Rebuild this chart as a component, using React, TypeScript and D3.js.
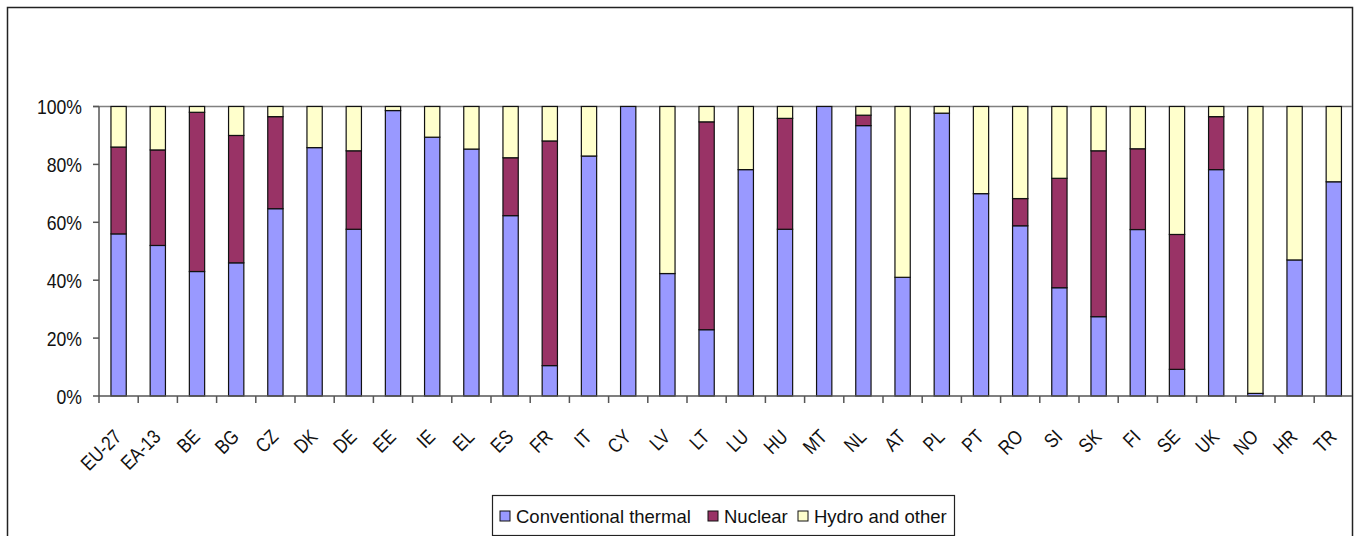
import React from "react";
import * as d3 from "d3";

const categories = ["EU-27","EA-13","BE","BG","CZ","DK","DE","EE","IE","EL","ES","FR","IT","CY","LV","LT","LU","HU","MT","NL","AT","PL","PT","RO","SI","SK","FI","SE","UK","NO","HR","TR"];
const thermal = [56,52,43,46,64.7,85.8,57.6,98.6,89.4,85.3,62.3,10.5,82.9,100,42.3,22.9,78.2,57.6,100,93.4,41,97.7,69.9,58.8,37.4,27.4,57.5,9.2,78.2,0.9,47,74];
const nuclear = [30,33,55,44,31.8,0,27.1,0,0,0,20,77.6,0,0,0,71.8,0,38.3,0,3.6,0,0,0,9.4,37.8,57.3,27.9,46.6,18.3,0,0,0];
const hydro = [14,15,2,10,3.5,14.2,15.3,1.4,10.6,14.7,17.7,11.9,17.1,0,57.7,5.3,21.8,4.1,0,3,59,2.3,30.1,31.8,24.8,15.3,14.6,44.2,3.5,99.1,53,26];
const yTicks = [0,20,40,60,80,100];
const seriesNames = ["Conventional thermal","Nuclear","Hydro and other"];
const colors = ["#9999FF","#993366","#FFFFCC"];

export default function App() {
  const W = 1355, H = 536;
  const x0 = 99, x1 = 99 + 32 * 39.2;
  const yTop = 106.5, yBot = 396;
  const x = d3.scaleBand<string>().domain(categories).range([x0, x1]).padding(0);
  const y = d3.scaleLinear().domain([0, 100]).range([yBot, yTop]);
  const bw = x.bandwidth() * 0.39;
  const series = [thermal, nuclear, hydro];
  const sans = "'Liberation Sans', Arial, sans-serif";

  const legendItems = [
    { name: seriesNames[0], color: colors[0], x: 500 },
    { name: seriesNames[1], color: colors[1], x: 708 },
    { name: seriesNames[2], color: colors[2], x: 798 },
  ];

  return (
    <div style={{ position: "absolute", left: 0, top: 0 }}>
      <svg width={W} height={H} style={{ display: "block", background: "#fff" }}>
        <rect x={7.5} y={7.5} width={1345} height={620} fill="#fff" stroke="#222" strokeWidth={1.5} />
        <line x1={93} x2={1352} y1={y(100)} y2={y(100)} stroke="#808080" strokeWidth={1.5} />
        {categories.map((c, i) => {
          let acc = 0;
          return (
            <g key={c}>
              {series.map((s, k) => {
                const v = s[i];
                const y0 = acc;
                acc += v;
                if (v <= 0) return null;
                return (
                  <rect key={k} x={(x(c) as number) + (x.bandwidth() - bw) / 2} y={y(y0 + v)} width={bw}
                    height={y(y0) - y(y0 + v)} fill={colors[k]} stroke="#111" strokeWidth={1.2} />
                );
              })}
            </g>
          );
        })}
        <line x1={x0} x2={x0} y1={yTop} y2={yBot} stroke="#555" strokeWidth={1.5} />
        {yTicks.map((t) => (
          <g key={t}>
            <line x1={93} x2={x0} y1={y(t)} y2={y(t)} stroke="#555" strokeWidth={1.5} />
            <text transform={`translate(82, ${y(t)}) scale(0.84, 1)`} dy="0.36em" textAnchor="end"
              fontFamily={sans} fontSize={21} fill="#111">{t}%</text>
          </g>
        ))}
        <line x1={x0} x2={1352} y1={yBot} y2={yBot} stroke="#555" strokeWidth={1.5} />
        {d3.range(33).map((i) => {
          const tx = x0 + i * x.step();
          if (tx > 1352) return null;
          return <line key={i} x1={tx} x2={tx} y1={yBot} y2={yBot + 7} stroke="#555" strokeWidth={1.5} />;
        })}
        {categories.map((c) => {
          const cx = (x(c) as number) + x.bandwidth() / 2 - 1;
          const cy = 433;
          return (
            <text key={c} transform={`translate(${cx}, ${cy}) rotate(-45) scale(0.84, 1)`} dy="0.36em" textAnchor="end"
              fontFamily={sans} fontSize={20} fill="#111">{c}</text>
          );
        })}
        <rect x={492.5} y={495.5} width={462} height={40} fill="#fff" stroke="#222" strokeWidth={1.2} />
        {legendItems.map((it) => (
          <g key={it.name}>
            <rect x={it.x} y={511} width={10} height={10} fill={it.color} stroke="#111" strokeWidth={1} />
            <text x={it.x + 16} y={516} dy="0.36em" fontFamily={sans} fontSize={18.5} fill="#111">{it.name}</text>
          </g>
        ))}
      </svg>
    </div>
  );
}
